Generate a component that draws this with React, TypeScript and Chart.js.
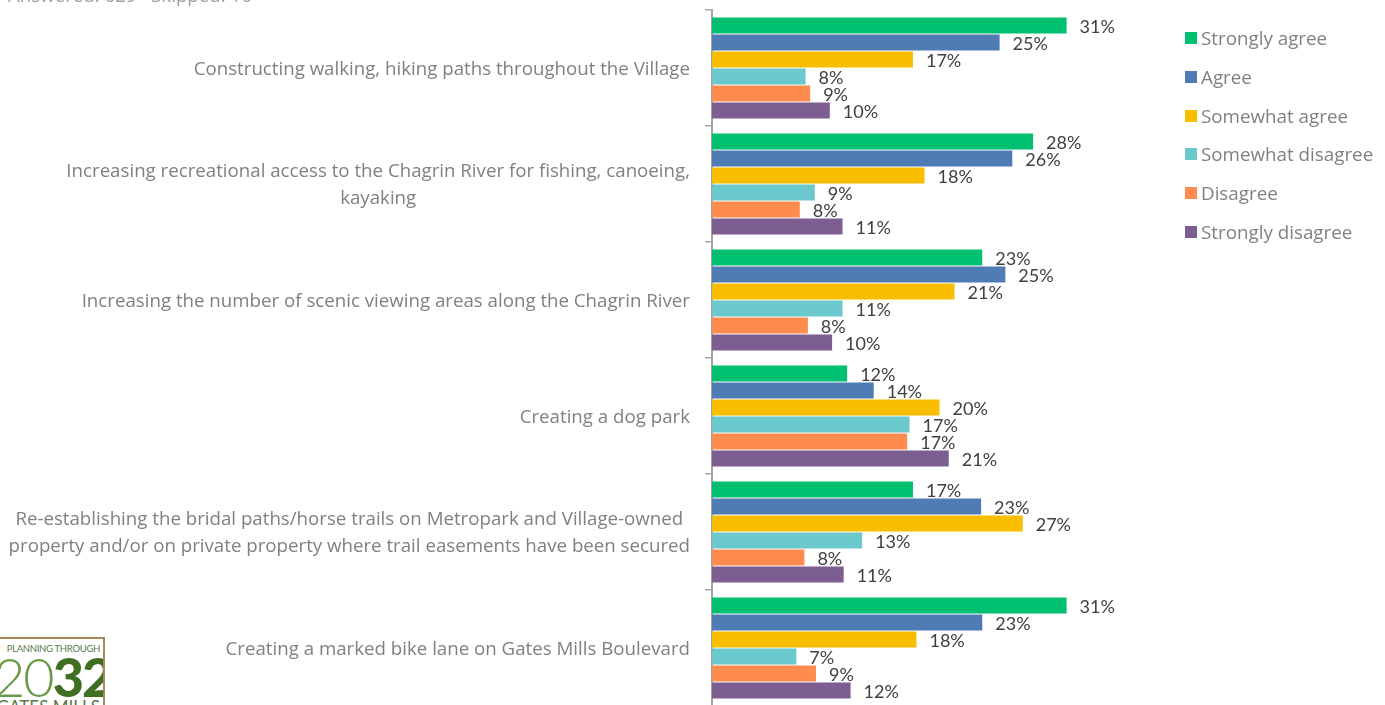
import React, { useEffect, useRef } from "react";
import { Chart, registerables } from "chart.js";

Chart.register(...registerables);

const categories: (string | string[])[] = [
  "Constructing walking, hiking paths throughout the Village",
  ["Increasing recreational access to the Chagrin River for fishing, canoeing,", "kayaking"],
  "Increasing the number of scenic viewing areas along the Chagrin River",
  "Creating a dog park",
  [
    "Re-establishing the bridal paths/horse trails on Metropark and Village-owned",
    "property and/or on private property where trail easements have been secured",
  ],
  "Creating a marked bike lane on Gates Mills Boulevard",
];

const seriesNames = [
  "Strongly agree",
  "Agree",
  "Somewhat agree",
  "Somewhat disagree",
  "Disagree",
  "Strongly disagree",
];

const stronglyAgree = [30.7, 27.8, 23.4, 11.7, 17.4, 30.7];
const agree = [24.9, 26.0, 25.4, 14.0, 23.3, 23.4];
const somewhatAgree = [17.4, 18.4, 21.0, 19.7, 26.9, 17.7];
const somewhatDisagree = [8.1, 8.9, 11.3, 17.1, 13.0, 7.3];
const disagree = [8.5, 7.6, 8.3, 16.9, 8.0, 9.0];
const stronglyDisagree = [10.2, 11.3, 10.4, 20.5, 11.4, 12.0];

const seriesValues = [stronglyAgree, agree, somewhatAgree, somewhatDisagree, disagree, stronglyDisagree];
const seriesColors = ["#00bf6f", "#507cb6", "#f9be00", "#6bc8cd", "#ff8b4f", "#7d5e90"];

const FONT = "Lato, 'Open Sans', sans-serif";
const TEXT_FONT = "'Open Sans', Lato, sans-serif";

const labelsPlugin = {
  id: "customLabels",
  afterDatasetsDraw(chart: any) {
    const ctx = chart.ctx;
    ctx.save();
    ctx.font = `18px ${FONT}`;
    ctx.fillStyle = "#404040";
    ctx.textBaseline = "middle";
    ctx.textAlign = "left";
    chart.data.datasets.forEach((ds: any, di: number) => {
      const meta = chart.getDatasetMeta(di);
      meta.data.forEach((el: any, i: number) => {
        const v = ds.data[i] as number;
        ctx.fillText(Math.round(v) + "%", el.x + 13, el.y + 2);
      });
    });
    ctx.restore();
  },
  afterDraw(chart: any) {
    const ctx = chart.ctx;
    const yScale = chart.scales.y;
    const right = chart.chartArea.left - 22;
    ctx.save();
    ctx.font = `18.7px ${TEXT_FONT}`;
    ctx.fillStyle = "#808080";
    ctx.textBaseline = "middle";
    ctx.textAlign = "center";
    const lh = 27;
    (chart.data.labels as any[]).forEach((lab, i) => {
      const lines: string[] = Array.isArray(lab) ? lab : [lab];
      const maxW = Math.max(...lines.map((l) => ctx.measureText(l).width));
      const cx = right - maxW / 2;
      const cy = yScale.getPixelForValue(i) + 1.5;
      lines.forEach((l, j) => {
        ctx.fillText(l, cx, cy + (j - (lines.length - 1) / 2) * lh);
      });
    });
    ctx.restore();
  },
};

export default function App() {
  const ref = useRef<HTMLCanvasElement | null>(null);

  useEffect(() => {
    if (!ref.current) return;
    const chart = new Chart(ref.current, {
      type: "bar",
      data: {
        labels: categories as any,
        datasets: seriesNames.map((name, k) => ({
          label: name,
          data: seriesValues[k],
          backgroundColor: seriesColors[k],
          borderWidth: 0,
          categoryPercentage: 0.88,
          barPercentage: 0.94,
        })),
      },
      options: {
        indexAxis: "y",
        animation: false,
        responsive: false,
        devicePixelRatio: 1,
        layout: { padding: { top: 10, bottom: 14, left: 0, right: 211 } },
        plugins: {
          legend: { display: false },
          tooltip: { enabled: false },
        },
        scales: {
          x: { display: false, min: 0, max: 40 },
          y: {
            display: true,
            offset: true,
            border: { display: true, color: "#a6a6a6", width: 2 },
            grid: {
              display: true,
              offset: true,
              drawOnChartArea: false,
              drawTicks: true,
              tickLength: 7,
              color: "#a6a6a6",
              lineWidth: 1.5,
            },
            ticks: { display: false },
            afterFit: (scale: any) => {
              scale.width = 712;
            },
          },
        },
      },
      plugins: [labelsPlugin],
    });
    return () => chart.destroy();
  }, []);

  return (
    <div
      style={{
        position: "fixed",
        left: 0,
        top: 0,
        width: 1385,
        height: 705,
        overflow: "hidden",
        background: "#fff",
        fontFamily: TEXT_FONT,
      }}
    >
      <canvas ref={ref} width={1385} height={720} style={{ display: "block", width: 1385, height: 720 }} />
      <div
        style={{
          position: "absolute",
          left: 8,
          top: -15,
          fontSize: 18.7,
          lineHeight: "20px",
          color: "#a0a0a0",
          whiteSpace: "pre",
        }}
      >
        {"Answered: 629   Skipped: 16"}
      </div>
      {seriesNames.map((name, k) => (
        <div
          key={name}
          style={{
            position: "absolute",
            left: 1185,
            top: 27 + k * 38.8,
            height: 22,
            display: "flex",
            alignItems: "center",
            whiteSpace: "nowrap",
          }}
        >
          <span style={{ display: "inline-block", width: 12, height: 12, background: seriesColors[k] }} />
          <span style={{ marginLeft: 4, fontSize: 18.8, color: "#808080" }}>{name}</span>
        </div>
      ))}
      <div
        style={{
          position: "absolute",
          left: -8,
          top: 637,
          width: 113,
          height: 80,
          border: "2px solid #a8875a",
          background: "#fff",
          boxSizing: "border-box",
          overflow: "hidden",
          textAlign: "right",
          paddingRight: 3,
          fontFamily: FONT,
        }}
      >
        <div style={{ fontSize: 9.5, color: "#5a7a4a", marginTop: 5, letterSpacing: -0.3, lineHeight: "10px" }}>
          PLANNING THROUGH
        </div>
        <div style={{ fontSize: 54, lineHeight: "44px", marginTop: 1, letterSpacing: -2, whiteSpace: "nowrap" }}>
          <span style={{ fontWeight: 300, color: "#6a9a4a" }}>20</span>
          <span style={{ fontWeight: 900, color: "#3f6f23" }}>32</span>
        </div>
        <div style={{ fontSize: 17, color: "#5a7a4a", lineHeight: "16px", whiteSpace: "nowrap" }}>GATES MILLS</div>
      </div>
    </div>
  );
}
